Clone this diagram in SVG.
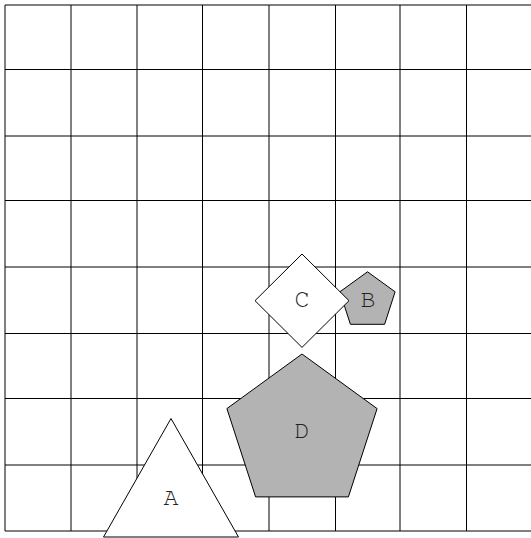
<svg xmlns="http://www.w3.org/2000/svg" width="531" height="538" viewBox="0 0 531 538">
<style>
.grid line{stroke:#000;stroke-width:1}
.shape{stroke:#000;stroke-width:1;stroke-linejoin:miter}
.white{fill:#fff}
.gray{fill:#b3b3b3}
text{font-family:"Nimbus Mono PS","FreeMono","Courier","Liberation Serif",serif;font-size:25px;fill:#222;text-anchor:middle}
</style>
<rect width="531" height="538" fill="#fff"/>
<g id="grid" class="grid">
<line x1="5" y1="5" x2="5" y2="531"/>
<line x1="71" y1="5" x2="71" y2="531"/>
<line x1="137" y1="5" x2="137" y2="531"/>
<line x1="202.5" y1="5" x2="202.5" y2="531"/>
<line x1="269" y1="5" x2="269" y2="531"/>
<line x1="335.5" y1="5" x2="335.5" y2="531"/>
<line x1="400" y1="5" x2="400" y2="531"/>
<line x1="466.5" y1="5" x2="466.5" y2="531"/>
<line x1="533" y1="5" x2="533" y2="531"/>
<line x1="5" y1="5" x2="533" y2="5"/>
<line x1="5" y1="69.5" x2="533" y2="69.5"/>
<line x1="5" y1="136" x2="533" y2="136"/>
<line x1="5" y1="200.5" x2="533" y2="200.5"/>
<line x1="5" y1="267" x2="533" y2="267"/>
<line x1="5" y1="333.5" x2="533" y2="333.5"/>
<line x1="5" y1="398.5" x2="533" y2="398.5"/>
<line x1="5" y1="465" x2="533" y2="465"/>
<line x1="5" y1="531" x2="533" y2="531"/>
</g>
<g id="connectors"></g>
<g id="D">
<polygon class="shape gray" points="302,354 377.1,408.6 348.4,496.9 255.6,496.9 226.9,408.6"/>
<text x="302" y="438">D</text>
</g>
<g id="B">
<polygon class="shape gray" points="367.5,271.8 395.1,291.8 384.6,324.3 350.4,324.3 339.9,291.8"/>
<text x="368" y="307">B</text>
</g>
<g id="C">
<polygon class="shape white" points="302,254 349,300.7 302,347.4 255,300.7"/>
<text x="302" y="307">C</text>
</g>
<g id="A">
<polygon class="shape white" points="171,418.5 238.5,537 103.5,537"/>
<text x="171" y="505">A</text>
</g>
</svg>
